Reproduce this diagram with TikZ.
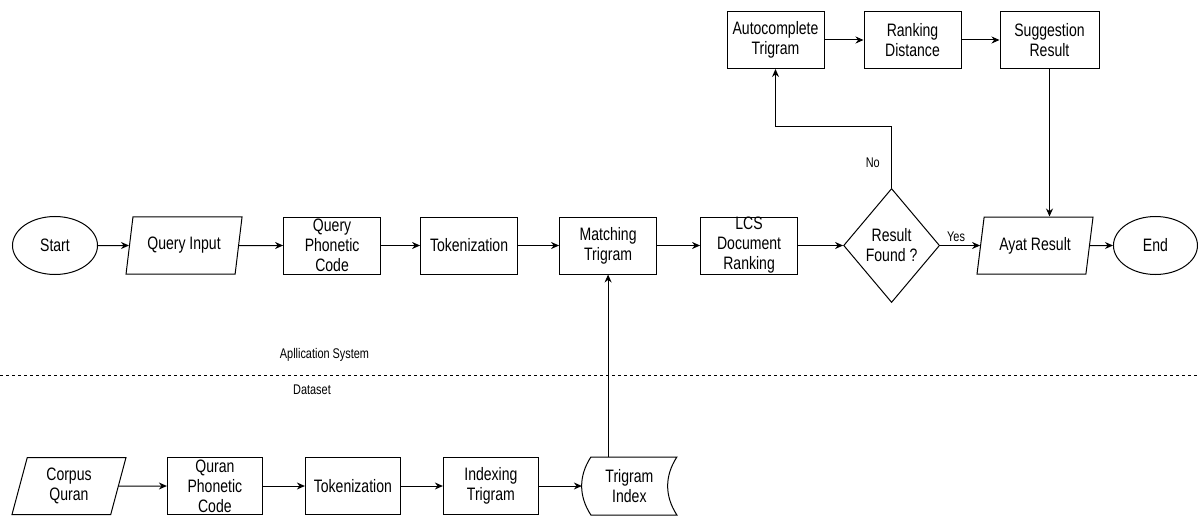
\documentclass[tikz,border=0pt]{standalone}
\usepackage{fontspec}
\setmainfont{Liberation Sans}[FakeStretch=0.78]
\usetikzlibrary{shapes.geometric, arrows.meta, positioning}
\tikzset{
    block/.style={rectangle, draw, minimum width=97pt, minimum height=57pt, inner sep=0pt, align=center},
    terminal/.style={ellipse, draw, minimum width=85pt, minimum height=58pt, inner sep=0pt},
    io/.style={trapezium, trapezium left angle=67, trapezium right angle=113, trapezium stretches body, draw, minimum width=116pt, minimum height=57pt, inner sep=0pt, align=center},
    decision/.style={diamond, draw, minimum width=96pt, minimum height=114pt, inner sep=0pt, align=center},
    store/.style={rectangle, minimum width=94pt, minimum height=57pt, inner sep=0pt, align=center},
    arrow/.style={-{Stealth[length=8pt, width=7pt]}},
    lbl/.style={font=\fontsize{14}{16}\selectfont}
}

\begin{document}
\begin{tikzpicture}[x=1pt, y=1pt, node distance=40pt, line width=1pt, font=\fontsize{18}{20}\selectfont]
    \useasboundingbox (0,0) rectangle (1200,-516);

    % Application row
    \node[terminal] (start) at (55,-245.5) {Start};
    \node[io, right=31pt of start] (qin) {Query Input};
    \node[block, right=44pt of qin] (qpc) {Query\\Phonetic\\Code};
    \node[block, right=39pt of qpc] (tok) {Tokenization};
    \node[block, right=41pt of tok] (match) {Matching\\Trigram};
    \node[block, right=43pt of match] (lcs) {LCS\\Document\\Ranking};
    \node[decision, right=45pt of lcs] (found) {Result\\Found ?};
    \node[io, right=40pt of found] (ayat) {Ayat Result};
    \node[terminal, right=23pt of ayat, minimum width=84pt] (end) {End};

    % Suggestion row
    \node[block] (auto) at (775.5,-40) {Autocomplete\\Trigram};
    \node[block, right=39pt of auto] (rank) {Ranking\\Distance};
    \node[block, right=38pt of rank, minimum width=99pt] (sugg) {Suggestion\\Result};

    % Dataset row
    \node[io, minimum width=114pt] (corpus) at (69,-486) {Corpus\\Quran};
    \node[block, right=48pt of corpus, minimum width=95pt] (qpc2) {Quran\\Phonetic\\Code};
    \node[block, right=42pt of qpc2, minimum width=95pt] (tok2) {Tokenization};
    \node[block, right=42pt of tok2, minimum width=95pt] (index) {Indexing\\Trigram};
    \node[store, right=43pt of index] (tidx) {Trigram\\Index};
    \draw ([xshift=9pt]tidx.north west) to[bend right=33] ([xshift=9pt]tidx.south west) -- (tidx.south east) to[bend left=33] (tidx.north east) -- cycle;

    % Separator
    \draw[dash pattern=on 3pt off 3pt] (0,-375) -- (1200,-375);
    \node[lbl] (app) at (324.5,-355) {Apllication System};
    \node[lbl] (data) at (312,-390) {Dataset};

    % Arrows (main flow)
    \draw[arrow] (start) -- (qin);
    \draw[arrow] (qin) -- (qpc);
    \draw[arrow] (qpc) -- (tok);
    \draw[arrow] (tok) -- (match);
    \draw[arrow] (match) -- (lcs);
    \draw[arrow] (lcs) -- (found);
    \draw[arrow] (found) -- node[lbl, above, pos=0.4] (yes) {Yes} (ayat);
    \draw[arrow] (ayat) -- (end);

    % Arrows (no result -> suggestions)
    \draw[arrow] (found.north) -- node[lbl, left=8pt, pos=0.42] (no) {No} ++(0,61) -| (auto.south);
    \draw[arrow] (auto) -- (rank);
    \draw[arrow] (rank) -- (sugg);
    \draw[arrow] (sugg.south) -- (sugg.south |- ayat.north);

    % Arrows (dataset)
    \draw[arrow] (corpus) -- (qpc2);
    \draw[arrow] (qpc2) -- (tok2);
    \draw[arrow] (tok2) -- (index);
    \draw[arrow] (index) -- (tidx);
    \draw[arrow] (match.south |- tidx.north) -- (match.south);

\end{tikzpicture}
\end{document}
